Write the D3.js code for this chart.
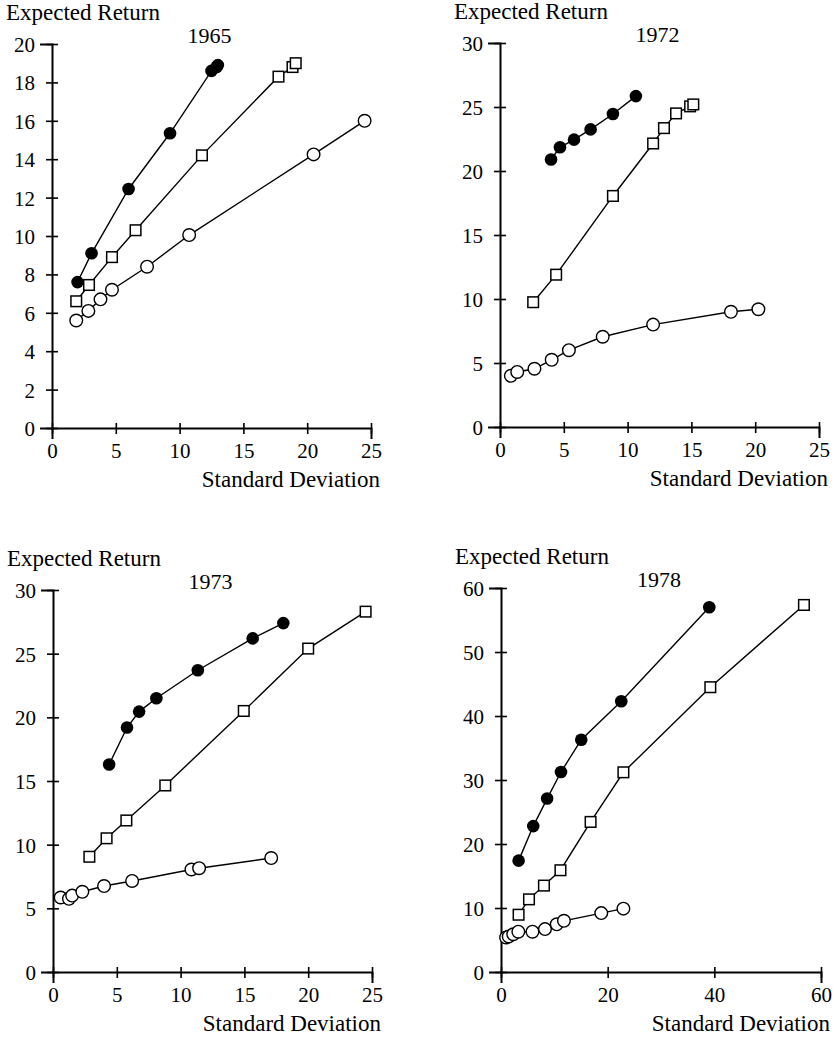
<!DOCTYPE html>
<html>
<head>
<meta charset="utf-8">
<script src="https://cdn.jsdelivr.net/npm/d3@7"></script>
<style>
  body { margin: 0; background: #fff; }
  svg { display: block; }
  text { font-family: "Liberation Serif", "Times New Roman", serif; fill: #000; }
</style>
</head>
<body>
<svg id="svg0" width="837" height="1037"></svg>
<script>

// tick labels
var xTicks25 = [0, 5, 10, 15, 20, 25];
var xTicks60 = [0, 20, 40, 60];
var yTicks20 = [0, 2, 4, 6, 8, 10, 12, 14, 16, 18, 20];
var yTicks30 = [0, 5, 10, 15, 20, 25, 30];
var yTicks60 = [0, 10, 20, 30, 40, 50, 60];

var years = ['1965', '1972', '1973', '1978'];

// [standard deviation, expected return]
var filled1965 = [[2.0, 7.6], [3.1, 9.1], [6.0, 12.45], [9.25, 15.35], [12.5, 18.6], [12.9, 18.8], [13.0, 18.9]];
var square1965 = [[1.9, 6.6], [2.9, 7.45], [4.7, 8.9], [6.55, 10.3], [11.75, 14.2], [17.75, 18.3], [18.85, 18.8], [19.1, 19.0]];
var open1965 = [[1.9, 5.6], [2.85, 6.1], [3.8, 6.7], [4.7, 7.2], [7.45, 8.4], [10.75, 10.05], [20.5, 14.25], [24.5, 16.0]];

var filled1972 = [[4.0, 20.9], [4.7, 21.85], [5.8, 22.45], [7.1, 23.25], [8.85, 24.45], [10.65, 25.85]];
var square1972 = [[2.6, 9.75], [4.4, 11.9], [8.85, 18.05], [12.0, 22.15], [12.85, 23.35], [13.8, 24.5], [14.9, 25.05], [15.15, 25.2]];
var open1972 = [[0.85, 4.0], [1.35, 4.3], [2.7, 4.55], [4.05, 5.25], [5.4, 6.0], [8.05, 7.05], [12.0, 8.0], [18.1, 9.0], [20.25, 9.2]];

var filled1973 = [[4.4, 16.3], [5.8, 19.2], [6.75, 20.45], [8.1, 21.5], [11.35, 23.7], [15.65, 26.2], [18.05, 27.4]];
var square1973 = [[2.85, 9.05], [4.2, 10.5], [5.75, 11.9], [8.8, 14.65], [14.95, 20.5], [20.0, 25.4], [24.5, 28.3]];
var open1973 = [[0.6, 5.85], [1.25, 5.75], [1.5, 6.0], [2.3, 6.3], [4.0, 6.75], [6.2, 7.15], [10.85, 8.05], [11.45, 8.15], [17.1, 8.95]];

var filled1978 = [[3.3, 17.4], [6.05, 22.8], [8.65, 27.1], [11.25, 31.25], [15.05, 36.3], [22.55, 42.3], [39.05, 57.0]];
var square1978 = [[3.3, 8.95], [5.25, 11.35], [8.05, 13.5], [11.15, 15.9], [16.8, 23.45], [22.95, 31.2], [39.25, 44.5], [56.8, 57.35]];
var open1978 = [[0.95, 5.4], [1.45, 5.55], [2.3, 5.9], [3.25, 6.3], [5.9, 6.3], [8.25, 6.7], [10.45, 7.45], [11.8, 8.0], [18.8, 9.2], [22.95, 9.9]];


var svg0 = d3.select('#svg0');

svg0.append('rect')
    .attr('width', 837)
    .attr('height', 1037)
    .attr('fill', '#fff');

var panels = [
    { year: years[0], left: 52, right: 371, top: 44, bottom: 428, xTicks: xTicks25, yTicks: yTicks20,
      filled: filled1965, square: square1965, open: open1965 },
    { year: years[1], left: 500, right: 819, top: 43, bottom: 427, xTicks: xTicks25, yTicks: yTicks30,
      filled: filled1972, square: square1972, open: open1972 },
    { year: years[2], left: 53, right: 372, top: 590, bottom: 972, xTicks: xTicks25, yTicks: yTicks30,
      filled: filled1973, square: square1973, open: open1973 },
    { year: years[3], left: 501, right: 821, top: 588, bottom: 972, xTicks: xTicks60, yTicks: yTicks60,
      filled: filled1978, square: square1978, open: open1978 }
];

var line = d3.line();

panels.forEach(function(p) {

    var x = d3.scaleLinear()
        .domain([0, d3.max(p.xTicks)])
        .range([p.left, p.right]);

    var y = d3.scaleLinear()
        .domain([0, d3.max(p.yTicks)])
        .range([p.bottom, p.top]);

    var g = svg0.append('g');

    // axes
    var gx = g.append('g')
        .attr('transform', 'translate(0,' + p.bottom + ')')
        .call(d3.axisBottom(x).tickValues(p.xTicks).tickSizeOuter(0).tickSize(11).tickPadding(8));
    gx.selectAll('.tick line').attr('y1', -5).attr('y2', 6);
    gx.selectAll('.tick text').attr('y', 0).attr('dy', 30);

    var gy = g.append('g')
        .attr('transform', 'translate(' + p.left + ',0)')
        .call(d3.axisLeft(y).tickValues(p.yTicks).tickSizeOuter(0).tickSize(12));
    gy.selectAll('.tick line').attr('x1', -6).attr('x2', 6);
    gy.selectAll('.tick text').attr('x', -17).attr('dy', '0.36em');

    g.selectAll('.domain').attr('stroke', '#000').attr('stroke-width', 2);
    g.selectAll('.tick line').attr('stroke', '#000').attr('stroke-width', 1.6);
    g.selectAll('.tick text')
        .style('font-family', '"Liberation Serif", serif')
        .style('font-size', '21px')
        .attr('fill', '#000');

    // labels
    g.append('text')
        .attr('x', p.left - 46)
        .attr('y', p.top - 24)
        .style('font-size', '23px')
        .text('Expected Return');

    g.append('text')
        .attr('x', (p.left + p.right) / 2 - 2)
        .attr('y', p.top - 1)
        .attr('text-anchor', 'middle')
        .style('font-size', '22px')
        .text(p.year);

    g.append('text')
        .attr('x', p.right + 9)
        .attr('y', p.bottom + 59)
        .attr('text-anchor', 'end')
        .style('font-size', '23px')
        .text('Standard Deviation');

    // lines
    [p.open, p.square, p.filled].forEach(function(s) {
        g.append('path')
            .attr('d', line(s.map(function(d) { return [x(d[0]), y(d[1])]; })))
            .attr('fill', 'none')
            .attr('stroke', '#000')
            .attr('stroke-width', 1.4);
    });

    // markers
    g.selectAll('circle.open')
        .data(p.open)
        .enter().append('circle')
        .attr('class', 'open')
        .attr('cx', function(d) { return x(d[0]); })
        .attr('cy', function(d) { return y(d[1]); })
        .attr('r', 6.3)
        .attr('fill', '#fff')
        .attr('stroke', '#000')
        .attr('stroke-width', 1.4);

    g.selectAll('rect.square')
        .data(p.square)
        .enter().append('rect')
        .attr('class', 'square')
        .attr('x', function(d) { return x(d[0]) - 5.3; })
        .attr('y', function(d) { return y(d[1]) - 5.3; })
        .attr('width', 10.6)
        .attr('height', 10.6)
        .attr('fill', '#fff')
        .attr('stroke', '#000')
        .attr('stroke-width', 1.5);

    g.selectAll('circle.filled')
        .data(p.filled)
        .enter().append('circle')
        .attr('class', 'filled')
        .attr('cx', function(d) { return x(d[0]); })
        .attr('cy', function(d) { return y(d[1]); })
        .attr('r', 6.3)
        .attr('fill', '#000');
});

</script>
</body>
</html>
